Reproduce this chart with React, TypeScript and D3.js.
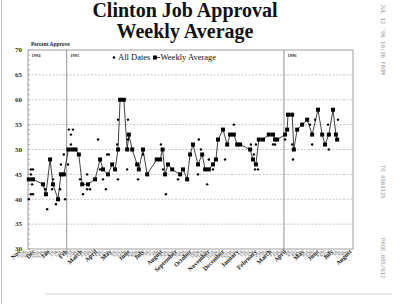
import React from "react";
import * as d3 from "d3";

// Weekly average of job approval; x = weeks since Fri 28 Oct 1994
const avgWeek = [
  0.2, 1.2, 3.6, 4.3, 5.3, 6.0, 7.2, 7.9, 8.6, 9.7, 10.6, 11.4, 12.2, 13.0, 14.4,
  16.1, 17.3, 18.0, 19.2, 20.2, 20.9, 21.6, 22.1, 23.0, 23.8, 24.2, 25.0, 26.2,
  26.6, 27.6, 28.6, 30.9, 31.7, 32.3, 32.9, 33.6, 34.6, 36.5, 37.2, 38.2, 38.9,
  39.6, 40.8, 41.8, 42.5, 43.4, 44.4, 45.1, 45.6, 46.8, 47.8, 48.5, 49.4, 50.2,
  50.9, 53.3, 54.0, 54.7, 55.4, 56.4, 57.8, 58.8, 59.3, 59.8, 61.7, 62.2, 62.4,
  63.4, 63.8, 64.6, 65.8, 67.0, 68.2, 69.6, 70.6, 71.3, 72.2, 73.2, 73.9, 74.2,
];
const avgValue = [
  44, 44, 43, 41, 48, 43, 40, 45, 45, 50, 50, 50, 49, 43, 43,
  44, 48, 46, 45, 47, 46, 50, 60, 60, 50, 53, 50, 47,
  46, 50, 45, 48, 48, 50, 45, 47, 46, 45, 46, 44, 49,
  51, 47, 49, 46, 46, 47, 48, 52, 54, 51, 53, 53, 51,
  51, 50, 48, 47, 52, 52, 53, 53, 52, 52, 53, 54, 57,
  57, 50, 54, 55, 56, 53, 58, 53, 51, 53, 58, 53, 52,
];

// Individual poll results
const pollWeek = [
  0.2, 0.7, 1.2, 0.7, 1.0, 0.7, 1.2, 4.1, 4.6, 5.8, 6.0, 6.7, 7.7, 7.9, 8.6, 8.9,
  9.6, 9.8, 10.3, 10.3, 10.8, 12.5, 13.2, 14.2, 14.2, 14.9, 16.8, 17.3, 18.0, 18.7,
  19.0, 19.4, 21.4, 21.6, 21.6, 23.8, 24.0, 24.0, 26.4, 27.6, 31.9, 32.4, 33.1,
  36.0, 40.8, 41.0, 41.5, 43.0, 43.4, 44.4, 47.3, 49.4, 53.5, 54.7, 54.2, 54.5,
  55.2, 58.8, 59.3, 61.7, 62.2, 63.4, 63.6, 67.7, 68.2, 68.9, 72.0, 72.2, 74.2, 74.4,
];
const pollValue = [
  40, 46, 46, 45, 43, 41, 41, 42, 38, 42, 44, 39, 42, 47, 49, 40,
  47, 54, 51, 53, 54, 44, 41, 45, 42, 42, 52, 46, 44, 42,
  49, 49, 51, 56, 44, 46, 56, 52, 44, 49, 51, 46, 41,
  44, 45, 52, 50, 43, 48, 46, 48, 55, 51, 51, 49, 46,
  46, 51, 51, 52, 57, 51, 48, 55, 51, 56, 55, 50, 52, 56,
];

const yTicks = [70, 65, 60, 55, 50, 45, 40, 35, 30];
const yearLabels = ["1994", "1995", "1996"];
const yearStarts = [new Date(1994, 9, 28), new Date(1995, 0, 1), new Date(1996, 0, 1)];
const monthLabels = [
  "Nov", "Dec", "Jan", "Feb", "March", "April", "May", "June", "July", "August",
  "September", "October", "November", "December", "January", "February", "March",
  "April", "May", "June", "July", "August",
];

const origin = new Date(1994, 9, 28);
const weeksSince = (d: Date) => (d.getTime() - origin.getTime()) / (7 * 864e5);

const W = 400;
const H = 304;
const left = 28;
const right = 353;
const top = 50;
const bottom = 249;

export default function App() {
  const x = d3.scaleLinear().domain([0, 78]).range([left, right]);
  const y = d3.scaleLinear().domain([30, 70]).range([bottom, top]);

  // Category axis of weekly dates along the bottom
  const tickDates = d3.timeMonday.range(new Date(1994, 10, 7), new Date(1996, 7, 6));
  const xl = d3
    .scaleTime()
    .domain([tickDates[0], tickDates[tickDates.length - 1]])
    .range([21, 352]);
  const fmt = d3.timeFormat("%-m/%-d");
  let mi = 0;
  let prevMonth = -1;
  const tickLabels = tickDates.map((d) => {
    const isMonth = d.getMonth() !== prevMonth;
    prevMonth = d.getMonth();
    return { d, isMonth, text: isMonth ? monthLabels[mi++] ?? "" : fmt(d) };
  });

  const line = d3
    .line<number>()
    .x((_, i) => x(avgWeek[i]))
    .y((v) => y(v));

  const minor = d3.range(30, 71, 1);
  const serif = "'Liberation Serif', 'Times New Roman', serif";

  return (
    <svg
      width={W}
      height={H}
      style={{ position: "absolute", left: 0, top: 0, background: "#fff" }}
      fontFamily={serif}
    >
      <rect width={W} height={H} fill="#fff" />
      <line x1={1.5} x2={1.5} y1={0} y2={H} stroke="#c8c8c8" strokeWidth={1} />
      <line x1={45} x2={392} y1={294} y2={294} stroke="#d4d4d4" strokeWidth={1.2} />

      <text x={185} y={16.5} textAnchor="middle" fontSize={20} fontWeight="bold" fill="#111">
        Clinton Job Approval
      </text>
      <text x={185} y={38} textAnchor="middle" fontSize={20} fontWeight="bold" fill="#111">
        Weekly Average
      </text>

      {/* fax header */}
      <g fill="#9a9a9a" fontFamily="'DejaVu Sans Mono', monospace" fontSize={5.6}>
        <text transform="translate(381,4) rotate(90)">JUL 12 '96 10:26 FROM</text>
        <text transform="translate(381,165) rotate(90)">TO 4561125</text>
        <text transform="translate(381,238) rotate(90)">PAGE.005/012</text>
      </g>

      <text x={31} y={46} fontSize={5.4} fontWeight="bold" fill="#222">
        Percent Approve
      </text>

      {/* gridlines */}
      {yTicks
        .filter((t) => t !== 30 && t !== 70)
        .map((t) => (
          <line
            key={t}
            x1={left}
            x2={right}
            y1={y(t)}
            y2={y(t)}
            stroke="#b0b0b0"
            strokeWidth={0.7}
            strokeDasharray="2,1.5"
          />
        ))}

      {/* minor ticks */}
      {minor.map((t) => (
        <line key={t} x1={left} x2={left + 2} y1={y(t)} y2={y(t)} stroke="#888" strokeWidth={0.6} />
      ))}

      {/* y labels */}
      {yTicks.map((t) => (
        <text key={t} x={22} y={y(t) + 2.3} textAnchor="end" fontSize={7} fontWeight="bold" fill="#333">
          {t}
        </text>
      ))}

      {/* plot frame */}
      <rect x={left} y={top} width={right - left} height={bottom - top} fill="none" stroke="#888" strokeWidth={0.8} />

      {/* year dividers */}
      {yearStarts.map((d, i) => {
        const xx = x(weeksSince(d));
        return (
          <g key={i}>
            {i > 0 && <line x1={xx} x2={xx} y1={top} y2={bottom} stroke="#777" strokeWidth={0.8} />}
            <text x={xx + 3.5} y={57} fontSize={4.5} fontWeight="bold" fill="#333">
              {yearLabels[i]}
            </text>
          </g>
        );
      })}

      {/* legend */}
      <g fontSize={8.5} fill="#111">
        <circle cx={114} cy={57.5} r={1.3} fill="#000" />
        <text x={118} y={60}>All Dates</text>
        <rect x={153} y={55.5} width={4} height={4} fill="#000" />
        <line x1={156} x2={160} y1={57.5} y2={57.5} stroke="#000" strokeWidth={0.8} />
        <text x={160.5} y={60}>Weekly Average</text>
      </g>

      {/* weekly average line */}
      <path d={line(avgValue) ?? ""} fill="none" stroke="#111" strokeWidth={0.8} />
      {avgValue.map((v, i) => (
        <rect key={i} x={x(avgWeek[i]) - 2} y={y(v) - 2} width={4} height={4} fill="#000" />
      ))}

      {/* individual polls */}
      {pollValue.map((v, i) => (
        <circle key={i} cx={x(pollWeek[i])} cy={y(v)} r={1.2} fill="#000" />
      ))}

      {/* bottom date labels */}
      {tickLabels.map((t, i) => (
        <text
          key={i}
          transform={`translate(${xl(t.d)},${bottom + 3}) rotate(-45)`}
          textAnchor="end"
          fontSize={t.isMonth ? 6.3 : 4}
          fontWeight={t.isMonth ? "bold" : "normal"}
          fill="#222"
        >
          {t.text}
        </text>
      ))}
    </svg>
  );
}
